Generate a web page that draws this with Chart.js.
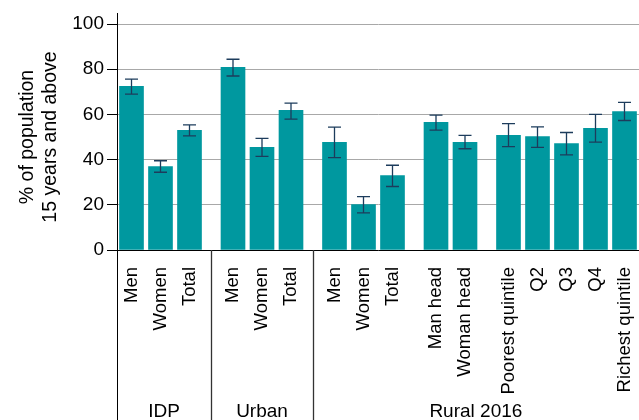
<!DOCTYPE html>
<html>
<head>
<meta charset="utf-8">
<script src="https://cdn.jsdelivr.net/npm/chart.js@4/dist/chart.umd.min.js"></script>
<style>
  html, body { margin: 0; padding: 0; background: #fff; }
  #wrap { width: 639px; height: 420px; }
</style>
</head>
<body>
<div id="wrap"><canvas id="chart" width="639" height="420"></canvas></div>
<script>
// tick labels, in drawing order
const labels = ['Men', 'Women', 'Total', 'Men', 'Women', 'Total', 'Men', 'Women', 'Total',
  'Man head', 'Woman head', 'Poorest quintile', 'Q2', 'Q3', 'Q4', 'Richest quintile'];
// bars per sub-block (a half gap sits between blocks)
const blockSizes = [3, 3, 3, 2, 5];
// group captions and how many blocks each covers
const groupNames = ['IDP', 'Urban', 'Rural 2016'];
const groupBlocks = [1, 1, 3];

// % of population 15 years and above
const values = [72.4, 36.9, 52.9, 80.8, 45.4, 61.8, 47.6, 20.1, 32.9, 56.5, 47.6, 50.7, 50.2, 47.1, 53.8, 61.3];
const lower  = [69.0, 34.4, 50.5, 77.0, 41.4, 57.9, 40.9, 16.4, 28.1, 53.0, 44.8, 45.7, 45.4, 42.1, 47.7, 57.3];
const upper  = [75.6, 39.5, 55.4, 84.4, 49.4, 65.0, 54.4, 23.6, 37.5, 59.7, 50.7, 55.9, 54.5, 52.0, 60.0, 65.3];

const yTicks = [0, 20, 40, 60, 80, 100];

// x slot of every bar, and where each block starts / ends
const positions = [];
const blockEdges = [];
let pos = 0;
blockSizes.forEach((n, b) => {
  if (b > 0) pos += 0.5;
  const start = pos;
  for (let i = 0; i < n; i++) { positions.push(pos); pos++; }
  blockEdges.push([start, pos - 1]);
});
const xMin = -0.5;
const xMax = positions[positions.length - 1] + 0.5;

const FONT = "'Liberation Sans', Arial, Helvetica, sans-serif";
Chart.defaults.font.family = FONT;
Chart.defaults.color = '#000';

const errorBars = {
  id: 'errorBars',
  afterDatasetsDraw(chart) {
    const ctx = chart.ctx;
    const x = chart.scales.x, y = chart.scales.y;
    ctx.save();
    ctx.strokeStyle = '#1d3c5c';
    ctx.lineWidth = 1.3;
    positions.forEach((p, i) => {
      const px = x.getPixelForValue(p);
      const top = y.getPixelForValue(upper[i]);
      const bot = y.getPixelForValue(lower[i]);
      ctx.beginPath();
      ctx.moveTo(px, top); ctx.lineTo(px, bot);
      ctx.moveTo(px - 6.5, top); ctx.lineTo(px + 6.5, top);
      ctx.moveTo(px - 6.5, bot); ctx.lineTo(px + 6.5, bot);
      ctx.stroke();
    });
    ctx.restore();
  }
};

const groupAxis = {
  id: 'groupAxis',
  afterDraw(chart) {
    const ctx = chart.ctx;
    const x = chart.scales.x;
    const area = chart.chartArea;
    const bottom = chart.height;
    ctx.save();
    // y axis line runs a little above the top tick and down through the label area
    ctx.strokeStyle = '#000';
    ctx.lineWidth = 1;
    ctx.beginPath();
    ctx.moveTo(area.left + 0.5, area.top - 11);
    ctx.lineTo(area.left + 0.5, bottom);
    ctx.stroke();

    let b = 0;
    let from = xMin;
    groupNames.forEach((name, g) => {
      const last = blockEdges[b + groupBlocks[g] - 1][1];
      b += groupBlocks[g];
      const to = g < groupNames.length - 1 ? (last + blockEdges[b][0]) / 2 : xMax;
      if (g < groupNames.length - 1) {
        const sx = Math.round(x.getPixelForValue(to)) + 0.5;
        ctx.strokeStyle = '#333';
        ctx.lineWidth = 1.3;
        ctx.beginPath();
        ctx.moveTo(sx, area.bottom);
        ctx.lineTo(sx, bottom);
        ctx.stroke();
      }
      ctx.fillStyle = '#000';
      ctx.font = '19px ' + FONT;
      ctx.textAlign = 'center';
      ctx.textBaseline = 'alphabetic';
      ctx.fillText(name, (x.getPixelForValue(from) + x.getPixelForValue(to)) / 2, 417);
      from = to;
    });
    ctx.restore();
  }
};

new Chart(document.getElementById('chart'), {
  type: 'bar',
  data: {
    datasets: [{
      data: positions.map((p, i) => ({ x: p, y: values[i] })),
      backgroundColor: '#00989f',
      borderWidth: 0,
      barThickness: 24
    }]
  },
  options: {
    responsive: false,
    animation: false,
    events: [],
    layout: { padding: { top: 24, right: 0, left: 0, bottom: 0 } },
    plugins: { legend: { display: false }, tooltip: { enabled: false } },
    scales: {
      x: {
        type: 'linear',
        offset: false,
        min: xMin,
        max: xMax,
        afterBuildTicks: axis => { axis.ticks = positions.map(v => ({ value: v })); },
        afterFit: axis => {
          axis.height = 170;
          axis.paddingLeft = 0;
          axis.paddingRight = 0;
        },
        grid: { display: false, offset: false },
        border: { color: '#000', width: 1 },
        ticks: {
          autoSkip: false,
          maxRotation: 90,
          minRotation: 90,
          padding: 9,
          font: { size: 18.5 },
          callback: (v, i) => labels[i]
        }
      },
      y: {
        min: 0,
        max: 100,
        afterBuildTicks: axis => { axis.ticks = yTicks.map(v => ({ value: v })); },
        afterFit: axis => { axis.width = 117; },
        grid: { color: '#a8a8a8', lineWidth: 1, tickColor: '#000', tickLength: 10 },
        border: { color: '#000', width: 1 },
        ticks: { padding: 3, font: { size: 19 } },
        title: {
          display: true,
          text: ['% of population', '15 years and above'],
          font: { size: 19.5, lineHeight: 1.18 },
          padding: { top: 16, bottom: 0 }
        }
      }
    }
  },
  plugins: [errorBars, groupAxis]
});
</script>
</body>
</html>
